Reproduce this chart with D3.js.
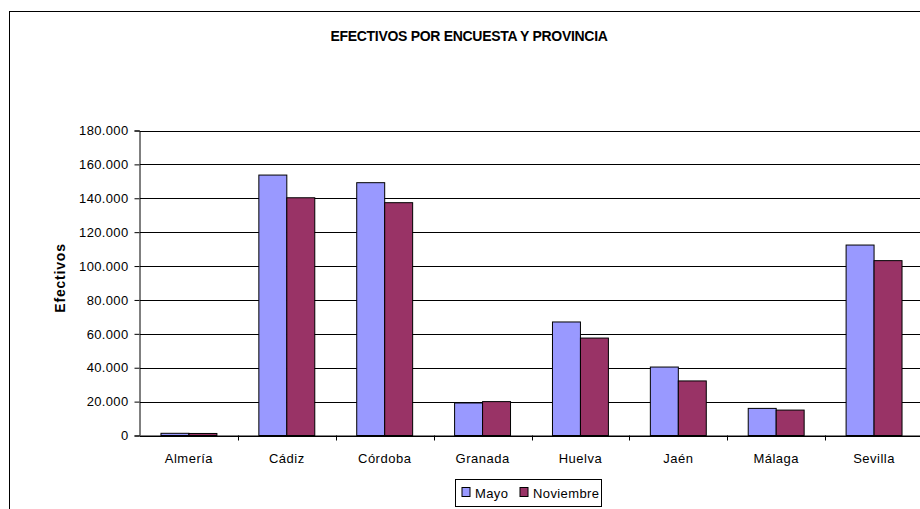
<!DOCTYPE html>
<html>
<head>
<meta charset="utf-8">
<script src="https://cdnjs.cloudflare.com/ajax/libs/d3/7.8.5/d3.min.js"></script>
<style>
  body { margin: 0; background: #fff; }
  text { font-family: "Liberation Sans", Arial, sans-serif; fill: #000; }
</style>
</head>
<body>
<svg id="chart" width="920" height="509"></svg>
<script>
const provincias = ["Almería", "Cádiz", "Córdoba", "Granada", "Huelva", "Jaén", "Málaga", "Sevilla"];
const mayo = [1300, 153700, 149200, 19200, 67000, 40400, 16000, 112400];
const noviembre = [1200, 140300, 137400, 20000, 57500, 32200, 15000, 103200];
const series = ["Mayo", "Noviembre"];
const colores = ["#9999ff", "#993366"];
const yTicks = [0, 20000, 40000, 60000, 80000, 100000, 120000, 140000, 160000, 180000];

const svg = d3.select("#chart");
const plotLeft = 140, plotRight = 923, plotTop = 130.5, plotBottom = 435.5;

// marco exterior
svg.append("rect").attr("x", 9.5).attr("y", 11.5).attr("width", 920).attr("height", 510)
  .attr("fill", "none").attr("stroke", "#000");

const x = d3.scaleBand().domain(provincias).range([plotLeft, plotRight]);
const x1 = d3.scaleBand().domain(series).range([0, x.bandwidth()]).paddingOuter(0.75).paddingInner(0);
const y = d3.scaleLinear().domain([0, 180000]).range([plotBottom, plotTop]);

const fmt = v => d3.format(",")(v).replace(/,/g, ".");

// rejilla
svg.append("g").selectAll("line").data(yTicks).join("line")
  .attr("x1", plotLeft).attr("x2", 920)
  .attr("y1", d => Math.round(y(d)) + 0.5).attr("y2", d => Math.round(y(d)) + 0.5)
  .attr("stroke", "#000").attr("stroke-width", 1);

// barras
const data = provincias.map((p, i) => ({p, vals: [mayo[i], noviembre[i]]}));
svg.append("g").selectAll("g").data(data).join("g")
  .attr("transform", d => `translate(${x(d.p)},0)`)
  .selectAll("rect").data(d => d.vals.map((v, j) => ({s: series[j], v, j})))
  .join("rect")
  .attr("x", d => x1(d.s))
  .attr("width", x1.bandwidth())
  .attr("y", d => y(d.v))
  .attr("height", d => plotBottom - y(d.v))
  .attr("fill", d => colores[d.j])
  .attr("stroke", "#000").attr("stroke-width", 1);

// eje Y
const yAxis = svg.append("g").attr("transform", `translate(${plotLeft - 0.5},0)`)
  .call(d3.axisLeft(y).tickValues(yTicks).tickFormat(fmt).tickSize(5).tickPadding(6));
yAxis.select(".domain").attr("stroke", "#000");
yAxis.selectAll("text").style("font-size", "13px").style("letter-spacing", "0.35px")
  .style("font-family", "Liberation Sans, Arial, sans-serif");

// eje X
const xAxis = svg.append("g").attr("transform", `translate(0,${plotBottom})`)
  .call(d3.axisBottom(x).tickSize(0).tickPadding(18));
xAxis.select(".domain").attr("stroke", "#000");
xAxis.selectAll("text").style("font-size", "13px").style("letter-spacing", "0.5px")
  .style("font-family", "Liberation Sans, Arial, sans-serif");
svg.append("g").selectAll("line").data(provincias.slice(1)).join("line")
  .attr("x1", d => Math.round(x(d)) + 0.5).attr("x2", d => Math.round(x(d)) + 0.5)
  .attr("y1", plotBottom).attr("y2", plotBottom + 5).attr("stroke", "#000");

// títulos
svg.append("text").attr("x", 469).attr("y", 41).attr("text-anchor", "middle")
  .style("font-size", "14px").style("font-weight", "bold").style("letter-spacing", "-0.3px")
  .text("EFECTIVOS POR ENCUESTA Y PROVINCIA");
svg.append("text").attr("transform", "translate(65,278) rotate(-90)").attr("text-anchor", "middle")
  .style("font-size", "14px").style("font-weight", "bold").style("letter-spacing", "0.8px")
  .text("Efectivos");

// leyenda
const lg = svg.append("g").attr("transform", "translate(455.5,479.5)");
lg.append("rect").attr("width", 146).attr("height", 27).attr("fill", "#fff").attr("stroke", "#000");
const lx = [6.5, 64.5];
series.forEach((s, i) => {
  lg.append("rect").attr("x", lx[i]).attr("y", 8).attr("width", 8).attr("height", 9)
    .attr("fill", colores[i]).attr("stroke", "#000");
  lg.append("text").attr("x", lx[i] + 13).attr("y", 18).style("font-size", "13px")
    .style("letter-spacing", "0.4px").text(s);
});
</script>
</body>
</html>
